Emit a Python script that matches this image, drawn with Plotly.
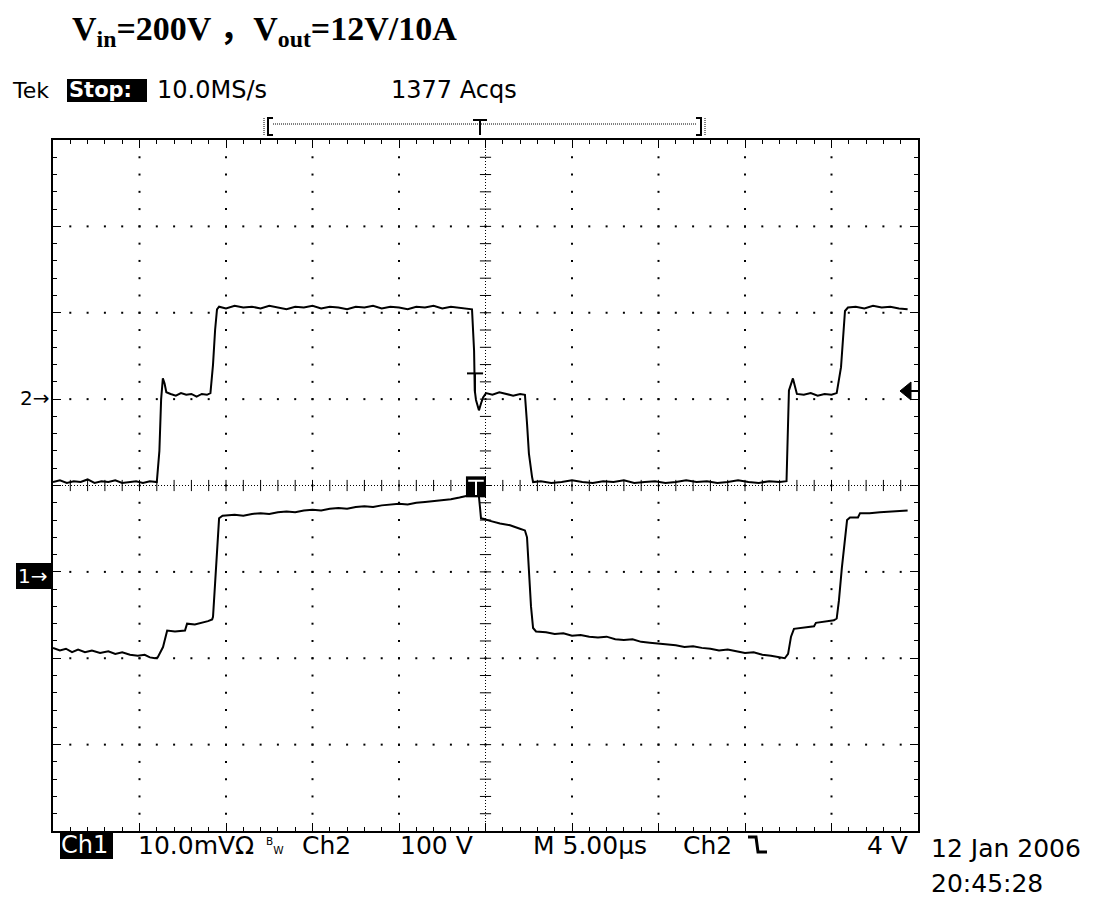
import plotly.graph_objects as go

# ---------------- data (read from the scope screen) ----------------
# time in µs (5 µs/div, trigger at screen centre), Ch2 in V (100 V/div), Ch1 in mV (10 mV/div)
ch2_t = [-25.0, -24.6, -24.2, -23.8, -23.4, -23.0, -22.6, -22.2, -21.8, -21.4, -21.0, -20.6, -20.2, -19.8, -19.4, -19.0,
         -18.85, -18.75, -18.65, -18.55, -18.45,
         -18.2, -17.9, -17.6, -17.3, -17.0, -16.7, -16.4, -16.1, -15.9,
         -15.75, -15.63, -15.52, -15.4,
         -15.0, -14.5, -14.0, -13.5, -13.0, -12.5, -12.0, -11.5, -11.0, -10.5, -10.0, -9.5, -9.0, -8.5, -8.0,
         -7.5, -7.0, -6.5, -6.0, -5.5, -5.0, -4.5, -4.0, -3.5, -3.0, -2.5, -2.0, -1.5, -1.0, -0.78,
         -0.66, -0.62, -0.55, -0.38, -0.26, -0.14, 0.03,
         0.4, 0.8, 1.2, 1.6, 2.0, 2.28,
         2.40, 2.51, 2.69, 2.75,
         3.2, 3.8, 4.4, 5.0, 5.6, 6.2, 6.8, 7.4, 8.0, 8.6, 9.2, 9.8, 10.4, 11.0, 11.6, 12.2, 12.8, 13.4, 14.0,
         14.6, 15.2, 15.8, 16.4, 17.0, 17.4,
         17.49, 17.54, 17.77, 17.89, 18.0,
         18.4, 18.8, 19.2, 19.6, 20.0, 20.3,
         20.55, 20.66, 20.78, 20.95,
         21.4, 21.9, 22.4, 22.9, 23.4, 23.9, 24.4]
ch2_v = [-96, -94, -97, -95, -96, -93, -97, -95, -96, -94, -97, -96, -95, -97, -95, -96,
         -60, 0, 24, 18, 8,
         6, 4, 7, 5, 6, 3, 6, 5, 7,
         40, 80, 104, 107,
         105, 108, 106, 107, 105, 108, 106, 104, 107, 106, 108, 105, 107, 106, 104,
         107, 106, 108, 105, 107, 106, 104, 107, 106, 108, 105, 107, 106, 105, 104,
         56, 10, -1, -13, -5, 2, 7,
         5, 8, 6, 4, 6, 5,
         -28, -63, -90, -96,
         -95, -97, -96, -94, -96, -97, -95, -96, -94, -97, -96, -95, -97, -96, -94, -96, -95, -97, -96,
         -94, -96, -97, -95, -96, -95,
         -38, 10, 24, 16, 6,
         5, 7, 4, 6, 5, 7,
         37, 68, 102, 106,
         107, 105, 108, 106, 107, 105, 104]

ch1_t = [-25.0, -24.6, -24.25, -23.9, -23.55, -23.15, -22.75, -22.28, -21.8, -21.4, -21.0, -20.55, -20.1, -19.7,
         -19.4, -19.1, -18.95,
         -18.64, -18.4, -17.95, -17.37, -17.25, -16.8, -16.4, -16.04, -15.8, -15.75, -15.63, -15.52, -15.4, -15.2,
         -14.5, -14.0, -13.5, -13.0, -12.5, -12.0, -11.5, -11.0, -10.5, -10.0, -9.5, -9.0, -8.5, -8.0, -7.5,
         -7.0, -6.5, -6.0, -5.5, -5.0, -4.5, -4.0, -3.5, -3.0, -2.5, -2.0, -1.5, -1.0, -0.6, -0.4,
         -0.32, -0.26, -0.03, 0.26, 0.84, 1.42, 1.99, 2.28,
         2.40, 2.51, 2.63, 2.75, 2.92,
         3.5, 4.0, 4.5, 5.0, 5.5, 6.0, 6.5, 7.0, 7.5, 8.0, 8.5, 9.0, 9.5, 10.0, 10.5, 11.0, 11.5, 12.0,
         12.5, 13.0, 13.5, 14.0, 14.5, 15.0, 15.5, 16.0, 16.5, 17.0, 17.3,
         17.49, 17.66, 17.83, 18.2, 18.64, 18.99, 19.1, 19.45, 19.8, 20.14, 20.3,
         20.43, 20.6, 20.78, 20.9, 21.07, 21.53, 21.65, 22.2, 22.8, 23.4, 23.96, 24.4]
ch1_mv = [-8.8, -9.1, -8.9, -9.3, -9.0, -9.3, -9.1, -9.4, -9.2, -9.5, -9.3, -9.6, -9.7, -9.6,
          -9.9, -10.0, -9.9,
          -8.7, -6.8, -6.9, -6.8, -6.0, -6.1, -5.9, -5.7, -5.5, -5.2, -1.3, 2.5, 6.2, 6.5,
          6.6, 6.5, 6.7, 6.8, 6.7, 6.9, 7.0, 6.9, 7.1, 7.2, 7.1, 7.3, 7.4, 7.3, 7.5,
          7.6, 7.5, 7.7, 7.8, 7.9, 7.8, 8.0, 8.1, 8.2, 8.3, 8.4, 8.6, 8.8, 9.0, 9.1,
          7.5, 6.2, 6.1, 5.9, 5.6, 5.4, 5.0, 4.8,
          4.0, 0.0, -4.0, -6.5, -6.9,
          -7.0, -7.2, -7.1, -7.4, -7.3, -7.5, -7.6, -7.5, -7.8, -7.9, -7.8, -8.1, -8.2, -8.3, -8.4, -8.5, -8.7, -8.6,
          -8.8, -8.9, -9.1, -9.0, -9.2, -9.4, -9.3, -9.6, -9.7, -9.9, -10.0,
          -9.5, -7.5, -6.6, -6.5, -6.4, -6.3, -5.9, -5.8, -5.7, -5.6, -5.4,
          -3.3, 0.5, 4.0, 6.0, 6.3, 6.3, 6.8, 6.8, 6.9, 7.0, 7.1, 7.1]

x_range = [-25, 25]      # µs  (10 div x 5 µs)
ch2_range = [-500, 300]  # V   (8 div x 100 V, ground 1 div above centre)
ch1_range = [-30, 50]    # mV  (8 div x 10 mV, ground 1 div below centre)

title_text = "<b>V<sub>in</sub>=200V ，V<sub>out</sub>=12V/10A</b>"
header_texts = ["Tek", "Stop:", "10.0MS/s", "1377 Acqs"]
footer_texts = ["Ch1", "10.0mVΩ", "Ch2", "100 V", "M 5.00µs", "Ch2", "4 V"]
date_texts = ["12 Jan 2006", "20:45:28"]

# ---------------- layout geometry ----------------
W, H = 1101, 897
L, R, T, B = 53, 183, 140, 66
PW, PH = W - L - R, H - T - B


def fx(px):
    return (px - L) / PW


def fy(py):
    return (H - B - py) / PH


fig = go.Figure()

# graticule dots
major_t = [-20, -15, -10, -5, 5, 10, 15, 20]
major_v = [-400, -300, -200, 0, 100, 200]
gx, gy = [], []
for tm in major_t:
    for k in range(1, 40):
        gx.append(tm)
        gy.append(-500 + 20 * k)
for v in major_v:
    for k in range(1, 50):
        gx.append(-25 + k)
        gy.append(v)
fig.add_trace(go.Scatter(x=gx, y=gy, mode="markers", hoverinfo="skip",
                         marker=dict(symbol="square", size=2, color="black", line=dict(width=0))))

# centre cross ticks
fig.add_trace(go.Scatter(x=[-25 + k for k in range(1, 50)], y=[-100] * 49, mode="markers", hoverinfo="skip",
                         marker=dict(symbol="line-ns", size=8, line=dict(width=1, color="black"))))
fig.add_trace(go.Scatter(x=[0] * 39, y=[-500 + 20 * k for k in range(1, 40)], mode="markers", hoverinfo="skip",
                         marker=dict(symbol="line-ew", size=8, line=dict(width=1, color="black"))))

# waveforms
fig.add_trace(go.Scatter(x=ch2_t, y=ch2_v, mode="lines", line=dict(color="black", width=2), name="Ch2"))
fig.add_trace(go.Scatter(x=ch1_t, y=ch1_mv, mode="lines", line=dict(color="black", width=2), name="Ch1",
                         yaxis="y2"))

shapes = []
# centre dotted lines
shapes.append(dict(type="line", xref="x", yref="y", x0=0, x1=0, y0=-500, y1=300,
                   line=dict(color="black", width=1, dash="1px,2px")))
shapes.append(dict(type="line", xref="x", yref="y", x0=-25, x1=25, y0=-100, y1=-100,
                   line=dict(color="black", width=1, dash="1px,2px")))

# black boxes for inverted labels
for (x0, x1, y0, y1) in [(67, 147, 79, 102), (60, 113, 833, 859), (16, 53, 563, 589)]:
    shapes.append(dict(type="rect", xref="paper", yref="paper", x0=fx(x0), x1=fx(x1), y0=fy(y1), y1=fy(y0),
                       fillcolor="black", line=dict(width=0)))


# record bracket with trigger position
def pth(pts):
    return "M " + " L ".join(f"{fx(a):.5f},{fy(b):.5f}" for a, b in pts)


shapes.append(dict(type="path", xref="paper", yref="paper", path=pth([(273, 118), (268, 118), (268, 135), (273, 135)]),
                   line=dict(color="black", width=2)))
shapes.append(dict(type="line", xref="paper", yref="paper", x0=fx(264), x1=fx(264), y0=fy(135), y1=fy(118),
                   line=dict(color="black", width=1, dash="1px,1px")))
shapes.append(dict(type="line", xref="paper", yref="paper", x0=fx(273), x1=fx(697), y0=fy(124), y1=fy(124),
                   line=dict(color="black", width=1, dash="1px,1px")))
shapes.append(dict(type="path", xref="paper", yref="paper", path=pth([(696, 118), (701, 118), (701, 135), (696, 135)]),
                   line=dict(color="black", width=2)))
shapes.append(dict(type="line", xref="paper", yref="paper", x0=fx(705), x1=fx(705), y0=fy(135), y1=fy(118),
                   line=dict(color="black", width=1, dash="1px,1px")))
shapes.append(dict(type="line", xref="paper", yref="paper", x0=fx(473), x1=fx(487), y0=fy(120), y1=fy(120),
                   line=dict(color="black", width=2)))
shapes.append(dict(type="line", xref="paper", yref="paper", x0=fx(480), x1=fx(480), y0=fy(120), y1=fy(135),
                   line=dict(color="black", width=2)))

# trigger level cross on Ch2
shapes.append(dict(type="line", xref="x", yref="y", x0=-1.07, x1=-0.14, y0=29.8, y1=29.8,
                   line=dict(color="black", width=2)))
shapes.append(dict(type="line", xref="x", yref="y", x0=-0.61, x1=-0.61, y0=29.8, y1=7,
                   line=dict(color="black", width=2)))
# trigger point box
shapes.append(dict(type="rect", xref="x", yref="y", x0=-1.13, x1=0.03, y0=-113.7, y1=-89.4,
                   fillcolor="black", line=dict(width=0)))
shapes.append(dict(type="line", xref="x", yref="y", x0=-1.0, x1=-0.1, y0=-94.5, y1=-94.5,
                   line=dict(color="white", width=2)))
shapes.append(dict(type="line", xref="x", yref="y", x0=-0.55, x1=-0.55, y0=-94.5, y1=-111,
                   line=dict(color="white", width=2)))

# falling-edge trigger symbol
shapes.append(dict(type="path", xref="paper", yref="paper", path=pth([(748, 837), (756, 837), (758, 852), (767, 852)]),
                   line=dict(color="black", width=3)))
# right trigger-level arrow
shapes.append(dict(type="path", xref="paper", yref="paper",
                   path=pth([(900, 391), (911, 382), (911, 400)]) + " Z",
                   fillcolor="black", line=dict(color="black", width=1)))
shapes.append(dict(type="line", xref="paper", yref="paper", x0=fx(910), x1=fx(918), y0=fy(391), y1=fy(391),
                   line=dict(color="black", width=2)))

anns = []


def txt(s, px, py, size, color="black", family="DejaVu Sans", anchor="left"):
    anns.append(dict(text=s, x=fx(px), y=fy(py), xref="paper", yref="paper", xanchor=anchor, yanchor="middle",
                     showarrow=False, font=dict(family=family, size=size, color=color)))


txt(title_text, 70, 31, 34, family="Liberation Serif, Noto Sans CJK SC")
txt(header_texts[0], 10, 90, 22)
txt("<b>" + header_texts[1] + "</b>", 67, 90, 21, color="white")
txt(header_texts[2], 155, 90, 24)
txt(header_texts[3], 389, 90, 24)

txt(footer_texts[0], 59, 845, 24, color="white")
txt(footer_texts[1], 136, 845, 25)
txt("<sup>B</sup><sub>W</sub>", 264, 845, 15)
txt(footer_texts[2], 300, 845, 25)
txt(footer_texts[3], 475, 845, 25, anchor="right")
txt(footer_texts[4], 531, 845, 25)
txt(footer_texts[5], 681, 845, 25)
txt(footer_texts[6], 910, 845, 25, anchor="right")
txt(date_texts[0], 929, 849, 25)
txt(date_texts[1], 929, 883, 25)

txt("2→", 18, 398, 20)
txt("1→", 16, 576, 20, color="white")

axis_common = dict(showgrid=False, zeroline=False, showticklabels=False, showline=True, linecolor="black",
                   linewidth=2, mirror="ticks", ticks="inside", ticklen=8, tickwidth=1, tickcolor="black")

fig.update_layout(
    width=W, height=H,
    margin=dict(l=L, r=R, t=T, b=B, autoexpand=False),
    paper_bgcolor="white", plot_bgcolor="white",
    showlegend=False,
    xaxis=dict(range=x_range, tick0=0, dtick=5,
               minor=dict(dtick=1, ticks="inside", ticklen=4, tickwidth=1, tickcolor="black"), **axis_common),
    yaxis=dict(range=ch2_range, tick0=-100, dtick=100,
               minor=dict(dtick=20, ticks="inside", ticklen=4, tickwidth=1, tickcolor="black"), **axis_common),
    yaxis2=dict(range=ch1_range, overlaying="y", visible=False),
    shapes=shapes,
    annotations=anns,
)

fig.write_html("out.html")
